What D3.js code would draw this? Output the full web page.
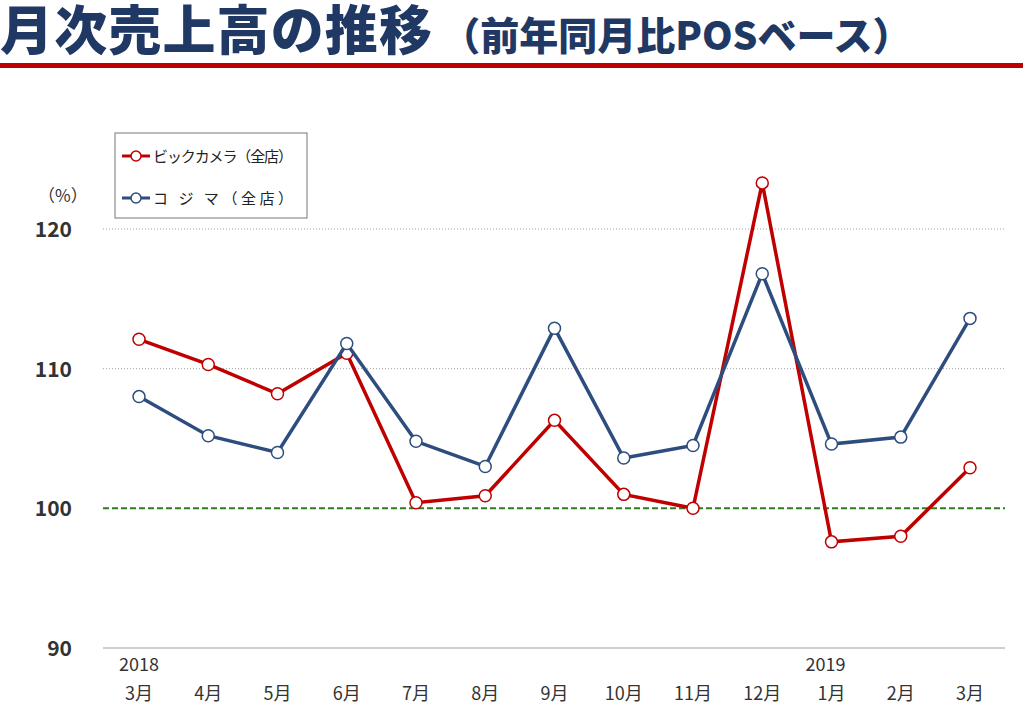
<!DOCTYPE html>
<html><head><meta charset="utf-8">
<script src="https://cdn.jsdelivr.net/npm/d3@7"></script>
<style>body{margin:0;background:#fff;font-family:"Noto Sans CJK JP","Noto Sans",sans-serif}</style>
</head><body><svg id="c" width="1023" height="714"></svg>
<script>
const months = ["3月","4月","5月","6月","7月","8月","9月","10月","11月","12月","1月","2月","3月"];
const bic = [112.1,110.3,108.2,111.1,100.4,100.9,106.3,101.0,100.0,123.3,97.6,98.0,102.9];
const kojima = [108.0,105.2,104.0,111.8,104.8,103.0,112.9,103.6,104.5,116.8,104.6,105.1,113.6];
const yTicks = [90,100,110,120];

const svg = d3.select("#c");
const navy = "#1f3864", red = "#c00000", blue = "#2e4d7f";

// title
const t = svg.append("text").attr("x", 0).attr("y", 50).attr("fill", navy).attr("font-weight", 900);
t.append("tspan").attr("font-size", 53).attr("textLength", 432).text("月次売上高の推移");
t.append("tspan").attr("font-size", 39).attr("dx", 8).text("（前年同月比POSベース）");
svg.append("rect").attr("x", 0).attr("y", 63).attr("width", 1023).attr("height", 5).attr("fill", red);

const x = d3.scalePoint().domain(d3.range(months.length)).range([139, 970]);
const y = d3.scaleLinear().domain([90, 120]).range([648, 229]);

yTicks.forEach(v => {
  svg.append("line").attr("x1", 103).attr("x2", 1005).attr("y1", y(v)).attr("y2", y(v))
    .attr("stroke", v === 100 ? "#2e7d1e" : "#a0a0a0")
    .attr("stroke-width", v === 100 ? 2 : 1)
    .attr("stroke-dasharray", v === 100 ? "6,3" : (v === 90 ? null : "1,2"));
  svg.append("text").attr("x", 72).attr("y", y(v) + 8).attr("text-anchor", "end")
    .attr("font-size", 21).attr("font-weight", 700).attr("fill", "#333").text(v);
});
svg.append("text").attr("x", 38).attr("y", 202).attr("font-size", 17).attr("fill", "#333").text("（%）");

months.forEach((m, i) => {
  svg.append("text").attr("x", x(i)).attr("y", 700).attr("text-anchor", "middle")
    .attr("font-size", 18).attr("fill", "#333").text(m);
});
svg.append("text").attr("x", x(0)).attr("y", 671).attr("text-anchor", "middle").attr("font-size", 18).attr("fill", "#333").text("2018");
svg.append("text").attr("x", x(10) - 6).attr("y", 671).attr("text-anchor", "middle").attr("font-size", 18).attr("fill", "#333").text("2019");

const line = d3.line().x((d, i) => x(i)).y(d => y(d));
[[bic, red], [kojima, blue]].forEach(([data, col]) => {
  svg.append("path").datum(data).attr("d", line).attr("fill", "none").attr("stroke", col).attr("stroke-width", 3.5);
  svg.selectAll(null).data(data).enter().append("circle")
    .attr("cx", (d, i) => x(i)).attr("cy", d => y(d)).attr("r", 6)
    .attr("fill", "#fff").attr("stroke", col).attr("stroke-width", 1.5);
});

// legend
svg.append("rect").attr("x", 115).attr("y", 133).attr("width", 192).attr("height", 85)
  .attr("fill", "#fff").attr("stroke", "#777");
[["ビックカメラ（全店）", red, 156], ["コ ジ マ（全店）", blue, 198]].forEach(([lab, col, yy]) => {
  svg.append("line").attr("x1", 122).attr("x2", 150).attr("y1", yy).attr("y2", yy).attr("stroke", col).attr("stroke-width", 3);
  svg.append("circle").attr("cx", 136).attr("cy", yy).attr("r", 5).attr("fill", "#fff").attr("stroke", col).attr("stroke-width", 1.5);
  svg.append("text").attr("x", 153).attr("y", yy + 6).attr("font-size", 15).attr("fill", "#222")
    .attr("textLength", 140).text(lab);
});
</script></body></html>
